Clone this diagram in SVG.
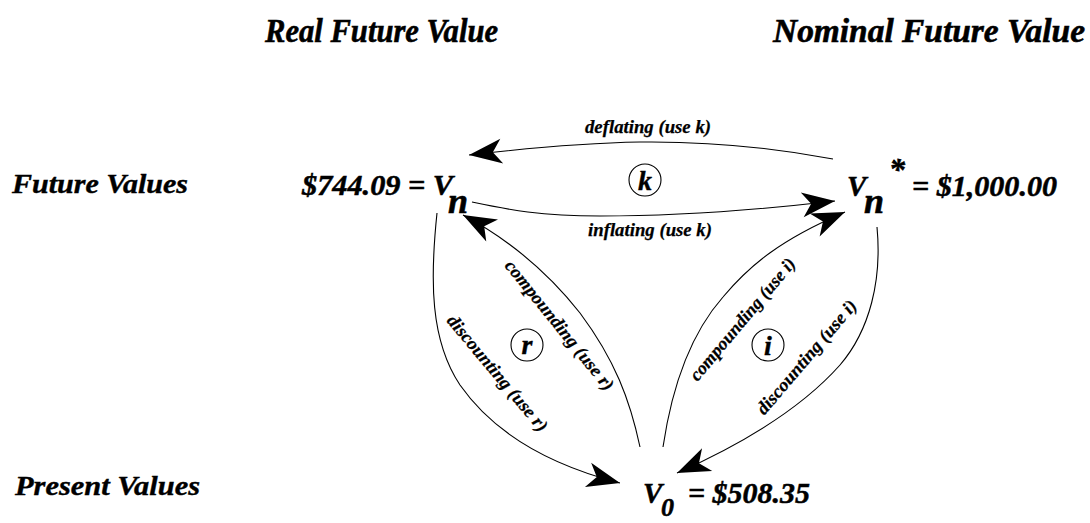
<svg xmlns="http://www.w3.org/2000/svg" width="1090" height="523" viewBox="0 0 1090 523">
<defs>
<style>
text{font-family:"Liberation Serif","Times New Roman",serif;font-weight:bold;font-style:italic;fill:#000}
.hdr{font-size:34px;stroke:#000;stroke-width:0.6}
.row{font-size:28px;stroke:#000;stroke-width:0.4}
.val{font-size:29px;stroke:#000;stroke-width:0.5}
.sub{font-size:36px;stroke:#000;stroke-width:0.6}
.lbl{font-size:18px;stroke:#000;stroke-width:0.25}
.rate{font-size:28px;stroke:#000;stroke-width:0.4}
.conn path{fill:none;stroke:#000;stroke-width:1.1}
.ring{fill:none;stroke:#000;stroke-width:1.1}
</style>
<marker id="ah" markerUnits="userSpaceOnUse" markerWidth="40" markerHeight="32" viewBox="-35 -16 40 32" refX="0" refY="0" orient="auto">
<path d="M0,0 L-33,-12.5 L-24,0 L-33,12.5 Z" fill="#000"/>
</marker>
</defs>
<rect width="1090" height="523" fill="#fff"/>

<g id="headers">
<text class="hdr" x="265" y="42" textLength="233" lengthAdjust="spacingAndGlyphs">Real Future Value</text>
<text class="hdr" x="773" y="42" textLength="312" lengthAdjust="spacingAndGlyphs">Nominal Future Value</text>
</g>
<g id="rows">
<text class="row" x="12" y="193" textLength="176" lengthAdjust="spacingAndGlyphs">Future Values</text>
<text class="row" x="15" y="495" textLength="185" lengthAdjust="spacingAndGlyphs">Present Values</text>
</g>

<g id="node-real">
<text class="val" x="302" y="195" textLength="151" lengthAdjust="spacingAndGlyphs">$744.09 = V</text>
<text class="sub" x="448" y="213">n</text>
</g>
<g id="node-nominal">
<text class="val" x="847" y="196">V</text>
<text class="sub" x="864" y="213">n</text>
<text class="val" x="889" y="180" style="font-size:32px">*</text>
<text class="val" x="912" y="196" textLength="145" lengthAdjust="spacingAndGlyphs">= $1,000.00</text>
</g>
<g id="node-present">
<text class="val" x="643" y="503">V</text>
<text class="val" x="661" y="516" style="font-size:26px">0</text>
<text class="val" x="688" y="503" textLength="122" lengthAdjust="spacingAndGlyphs">= $508.35</text>
</g>

<g id="rate-k">
<circle class="ring" cx="645" cy="180" r="16"/>
<text class="rate" x="645" y="190" text-anchor="middle">k</text>
</g>
<g id="rate-r">
<circle class="ring" cx="527" cy="345" r="16"/>
<text class="rate" x="527" y="354" text-anchor="middle">r</text>
</g>
<g id="rate-i">
<circle class="ring" cx="768" cy="345" r="16"/>
<text class="rate" x="768" y="355" text-anchor="middle">i</text>
</g>

<g id="connectors" class="conn">
<path d="M833,159 C790,151 720,141 640,142 C580,143 520,149 469,155" marker-end="url(#ah)"/>
<path d="M472,202 C510,210 540,216 600,216 C660,216 740,212 835,201" marker-end="url(#ah)"/>
<path d="M663,447 C670,400 685,340 723,297 C750,265 780,240 845,212" marker-end="url(#ah)"/>
<path d="M877,227 C882,280 870,330 840,365 C800,410 740,445 677,473" marker-end="url(#ah)"/>
<path d="M437,213 C430,280 430,340 460,385 C495,435 550,465 620,483" marker-end="url(#ah)"/>
<path d="M640,447 C630,400 615,360 580,313 C550,275 510,240 463,215" marker-end="url(#ah)"/>
</g>

<g id="connector-labels">
<text class="lbl" x="648" y="133" text-anchor="middle" textLength="126" lengthAdjust="spacingAndGlyphs">deflating (use k)</text>
<text class="lbl" x="650" y="236" text-anchor="middle" textLength="124" lengthAdjust="spacingAndGlyphs">inflating (use k)</text>
<text class="lbl" transform="translate(555,329) rotate(51)" text-anchor="middle" textLength="162" lengthAdjust="spacingAndGlyphs">compounding (use r)</text>
<text class="lbl" transform="translate(493,377) rotate(50)" text-anchor="middle" textLength="146" lengthAdjust="spacingAndGlyphs">discounting (use r)</text>
<text class="lbl" transform="translate(747,323) rotate(-50)" text-anchor="middle" textLength="154" lengthAdjust="spacingAndGlyphs">compounding (use i)</text>
<text class="lbl" transform="translate(811,361) rotate(-49.5)" text-anchor="middle" textLength="144" lengthAdjust="spacingAndGlyphs">discounting (use i)</text>
</g>
</svg>
